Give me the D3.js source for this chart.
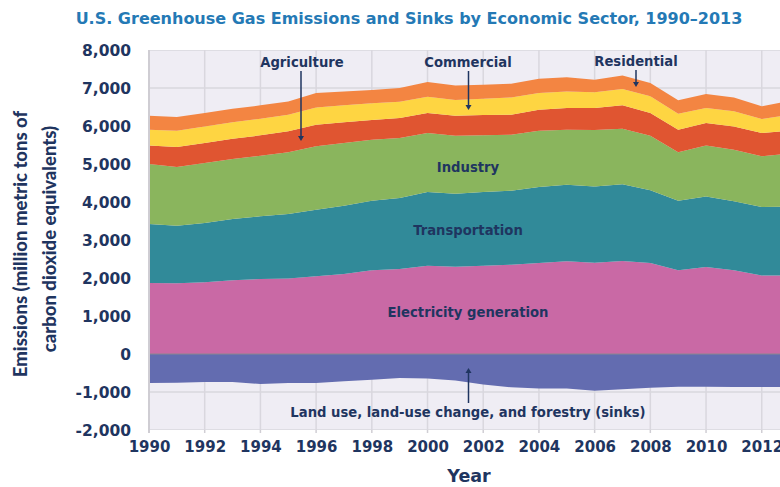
<!DOCTYPE html>
<html>
<head>
<meta charset="utf-8">
<script src="https://cdn.jsdelivr.net/npm/d3@7"></script>
<style>
	body { margin: 0; background: #fff; }
	svg text { font-family: "DejaVu Sans", sans-serif; font-weight: bold; fill: #1f3560; }
</style>
</head>
<body>
<svg id="chart" width="780" height="487"></svg>
<script>
// years and sector values (million metric tons CO2 eq.)
const years = d3.range(1990, 2014);
const electricity = [1868, 1859, 1885, 1938, 1973, 1990, 2043, 2104, 2201, 2236, 2324, 2297, 2324, 2350, 2394, 2438, 2403, 2447, 2394, 2201, 2289, 2201, 2069, 2069];
const transportation = [1552, 1517, 1562, 1614, 1649, 1693, 1754, 1799, 1833, 1868, 1938, 1921, 1938, 1947, 2000, 2017, 2008, 2017, 1912, 1833, 1859, 1816, 1799, 1807];
const industry = [1579, 1544, 1578, 1579, 1596, 1623, 1667, 1649, 1606, 1579, 1553, 1527, 1492, 1474, 1482, 1448, 1483, 1465, 1439, 1272, 1342, 1359, 1333, 1404];
const agriculture = [491, 527, 527, 535, 536, 553, 570, 544, 517, 527, 526, 526, 535, 526, 553, 570, 579, 614, 596, 597, 588, 614, 614, 596];
const commercial = [413, 429, 438, 430, 438, 438, 456, 447, 439, 429, 430, 412, 429, 456, 439, 438, 412, 430, 439, 421, 395, 395, 368, 421];
const residential = [368, 360, 351, 359, 351, 351, 378, 368, 350, 360, 386, 386, 369, 360, 377, 369, 333, 359, 351, 351, 368, 368, 334, 363];
const landUse = [-765, -755, -740, -735, -790, -765, -765, -720, -680, -630, -645, -700, -800, -875, -905, -905, -965, -925, -890, -865, -860, -870, -870, -870];

const yTicks = d3.range(-2000, 8001, 1000);
const xTicks = d3.range(1990, 2013, 2);

const keys = ["electricity", "transportation", "industry", "agriculture", "commercial", "residential"];
const colors = {
	electricity: "#c969a5",
	transportation: "#318a99",
	industry: "#8ab55d",
	agriculture: "#e05531",
	commercial: "#fed542",
	residential: "#f38542"
};

const rows = years.map((yr, i) => ({
	year: yr,
	electricity: electricity[i],
	transportation: transportation[i],
	industry: industry[i],
	agriculture: agriculture[i],
	commercial: commercial[i],
	residential: residential[i],
	landUse: landUse[i]
}));

const svg = d3.select("#chart");
const plotLeft = 149, plotRight = 780, plotTop = 50, plotBottom = 430;

// 2013 falls just past the right edge of the picture
const x = d3.scaleLinear().domain([1990, 2013]).range([plotLeft, 789.6]);
const y = d3.scaleLinear().domain([-2000, 8000]).range([plotBottom, plotTop]);

svg.append("defs").append("clipPath").attr("id", "plot-clip")
	.append("rect").attr("x", plotLeft).attr("y", plotTop).attr("width", plotRight - plotLeft).attr("height", plotBottom - plotTop);

// plot background
svg.append("rect")
	.attr("x", plotLeft).attr("y", plotTop)
	.attr("width", plotRight - plotLeft).attr("height", plotBottom - plotTop)
	.attr("fill", "#efedf4");

// grid
const grid = svg.append("g").attr("clip-path", "url(#plot-clip)");
grid.selectAll(".hgrid").data(yTicks).enter().append("line")
	.attr("x1", plotLeft).attr("x2", plotRight)
	.attr("y1", d => y(d)).attr("y2", d => y(d))
	.attr("stroke", "#d9d7de").attr("stroke-width", 1.5);
grid.selectAll(".vgrid").data(xTicks).enter().append("line")
	.attr("x1", d => x(d)).attr("x2", d => x(d))
	.attr("y1", plotTop).attr("y2", plotBottom)
	.attr("stroke", "#d9d7de").attr("stroke-width", 1.5);

// small ticks below the plot
svg.selectAll(".xtick").data(xTicks).enter().append("line")
	.attr("x1", d => x(d)).attr("x2", d => x(d))
	.attr("y1", plotBottom).attr("y2", plotBottom + 3)
	.attr("stroke", "#d0ced4").attr("stroke-width", 1.5);

const series = d3.stack().keys(keys)(rows);

const area = d3.area()
	.x(d => x(d.data.year))
	.y0(d => y(d[0]))
	.y1(d => y(d[1]));

const layers = svg.append("g").attr("clip-path", "url(#plot-clip)");

layers.selectAll(".layer").data(series).enter().append("path")
	.attr("d", area)
	.attr("fill", d => colors[d.key]);

const sinkArea = d3.area()
	.x(d => x(d.year))
	.y0(y(0))
	.y1(d => y(d.landUse));

layers.append("path")
	.datum(rows)
	.attr("d", sinkArea)
	.attr("fill", "#636cb0");

// zero line
layers.append("line")
	.attr("x1", plotLeft).attr("x2", plotRight)
	.attr("y1", y(0)).attr("y2", y(0))
	.attr("stroke", "#8a8790").attr("stroke-width", 1);

// left axis line
svg.append("line")
	.attr("x1", plotLeft).attr("x2", plotLeft)
	.attr("y1", plotTop).attr("y2", plotBottom + 3)
	.attr("stroke", "#cfcdd3").attr("stroke-width", 2);

// axes
const fmt = d => d3.format(",")(d).replace("\u2212", "-");

const yAxis = svg.append("g")
	.attr("transform", "translate(" + (plotLeft - 15) + ",0)")
	.call(d3.axisLeft(y).tickValues(yTicks).tickFormat(fmt).tickSize(0));
yAxis.select(".domain").remove();
yAxis.selectAll("text")
	.attr("font-size", 15.5)
	.attr("dy", "0.36em")
	.style("font-family", "'DejaVu Sans', sans-serif")
	.style("font-weight", "bold")
	.attr("fill", "#1f3560");

const xAxis = svg.append("g")
	.attr("transform", "translate(0," + plotBottom + ")")
	.call(d3.axisBottom(x).tickValues(xTicks).tickFormat(d3.format("d")).tickSize(0).tickPadding(11));
xAxis.select(".domain").remove();
xAxis.selectAll("text")
	.attr("font-size", 15)
	.style("font-family", "'DejaVu Sans', sans-serif")
	.style("font-weight", "bold")
	.attr("fill", "#1f3560");

// title
svg.append("text")
	.attr("x", 409).attr("y", 24)
	.attr("text-anchor", "middle")
	.attr("font-size", 16)
	.style("fill", "#2479b5")
	.text("U.S. Greenhouse Gas Emissions and Sinks by Economic Sector, 1990\u20132013");

// axis titles
svg.append("text")
	.attr("transform", "translate(27,244) rotate(-90)")
	.attr("text-anchor", "middle")
	.attr("font-size", 18.5)
	.style("font-family", "Lato, sans-serif")
	.style("font-weight", 900)
	.text("Emissions (million metric tons of");
svg.append("text")
	.attr("transform", "translate(56,239) rotate(-90)")
	.attr("text-anchor", "middle")
	.attr("font-size", 18.5)
	.style("font-family", "Lato, sans-serif")
	.style("font-weight", 900)
	.text("carbon dioxide equivalents)");

svg.append("text")
	.attr("x", 469).attr("y", 482)
	.attr("text-anchor", "middle")
	.attr("font-size", 17.5)
	.text("Year");

// in-plot labels
const labels = [
	{ text: "Agriculture", x: 302, y: 67 },
	{ text: "Commercial", x: 468, y: 67 },
	{ text: "Residential", x: 636, y: 66 },
	{ text: "Industry", x: 468, y: 172 },
	{ text: "Transportation", x: 468, y: 235 },
	{ text: "Electricity generation", x: 468, y: 317 },
	{ text: "Land use, land-use change, and forestry (sinks)", x: 468, y: 417 }
];
svg.selectAll(".lbl").data(labels).enter().append("text")
	.attr("x", d => d.x).attr("y", d => d.y)
	.attr("text-anchor", "middle")
	.attr("font-size", 13.2)
	.text(d => d.text);

// arrows
const arrows = [
	{ x: 301, y1: 71, y2: 141 },
	{ x: 468.5, y1: 71, y2: 110 },
	{ x: 636, y1: 70, y2: 87 },
	{ x: 468.5, y1: 403, y2: 368 }
];
const arrowG = svg.append("g");
arrows.forEach(a => {
	const dir = a.y2 > a.y1 ? 1 : -1;
	arrowG.append("line")
		.attr("x1", a.x).attr("x2", a.x)
		.attr("y1", a.y1).attr("y2", a.y2 - dir * 4)
		.attr("stroke", "#1f3560").attr("stroke-width", 1.5);
	arrowG.append("path")
		.attr("d", "M" + (a.x - 3) + "," + (a.y2 - dir * 5) + "L" + (a.x + 3) + "," + (a.y2 - dir * 5) + "L" + a.x + "," + a.y2 + "Z")
		.attr("fill", "#1f3560");
});
</script>
</body>
</html>
